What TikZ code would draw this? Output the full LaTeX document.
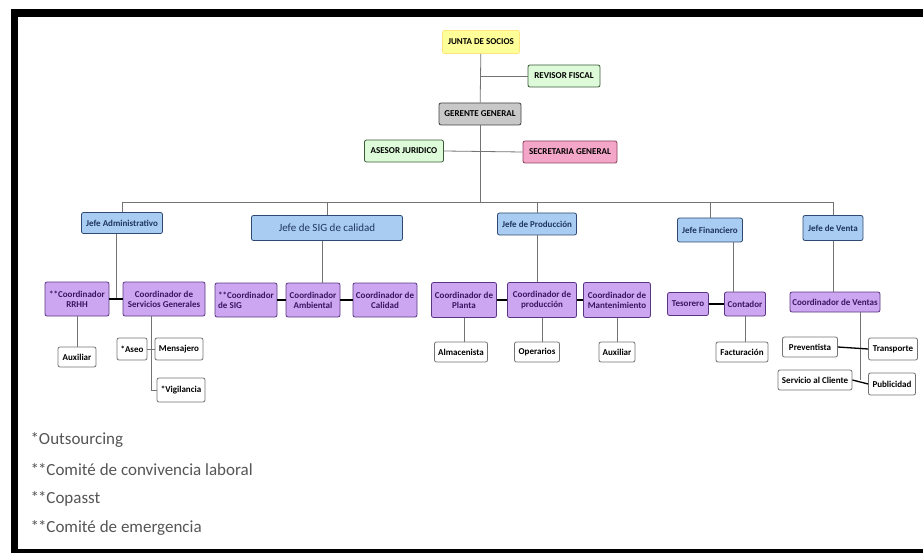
\documentclass[tikz,border=0pt]{standalone}
\usepackage{fontspec}
\setmainfont{Carlito}
\usetikzlibrary{calc}
\definecolor{yelF}{HTML}{FFFF99}
\definecolor{grnF}{HTML}{DDFBD8}
\definecolor{grnD}{HTML}{3A5A3A}
\definecolor{gryF}{HTML}{C8C8C8}
\definecolor{pnkF}{HTML}{F4A6C8}
\definecolor{pnkD}{HTML}{8A4060}
\definecolor{bluF}{HTML}{A9CDF2}
\definecolor{bluD}{HTML}{2E4A70}
\definecolor{bluT}{HTML}{1F3560}
\definecolor{purF}{HTML}{CDA6F2}
\definecolor{purD}{HTML}{5A3580}
\definecolor{purT}{HTML}{3A1560}
\definecolor{legT}{HTML}{555555}

\begin{document}
\begin{tikzpicture}[x=1pt,y=-1pt,
  box/.style={rounded corners=2pt,line width=0.8pt,inner sep=1pt,align=center,
    font=\fontsize{9}{10}\selectfont\bfseries},
  yel/.style={box,fill=yelF,draw=yelF!80!orange},
  grn/.style={box,fill=grnF,draw=grnD},
  gry/.style={box,fill=gryF,draw=black!75},
  pnk/.style={box,fill=pnkF,draw=pnkD},
  blu/.style={box,fill=bluF,draw=bluD,text=bluT},
  pur/.style={box,fill=purF,draw=purD,text=purT},
  wht/.style={box,fill=white,draw=black!55},
  lnk/.style={draw=black!55,line width=0.8pt},
  blk/.style={draw=black,line width=1.3pt}]
  \useasboundingbox (0,0) rectangle (923,553);
  % frame
  \fill (11,9) rectangle (923,17);
  \fill (11,9) rectangle (18,553);
  \fill (11,549) rectangle (923,553);

  % top of the chart
  \node[yel,minimum width=77,minimum height=23] (junta) at (481,42) {JUNTA DE SOCIOS};
  \node[grn,minimum width=72,minimum height=22] (revisor) at (564,76) {REVISOR FISCAL};
  \node[gry,minimum width=82,minimum height=22] (gerente) at (480,114) {GERENTE GENERAL};
  \node[grn,minimum width=79,minimum height=22] (asesor) at (404,151) {ASESOR JURIDICO};
  \node[pnk,minimum width=94,minimum height=22] (secre) at (570,152) {SECRETARIA GENERAL};

  % jefes
  \node[blu,minimum width=81,minimum height=21] (jadm) at (122,223) {Jefe Administrativo};
  \node[blu,minimum width=151,minimum height=25,font=\fontsize{11}{13}\selectfont] (jsig) at (327,228) {Jefe de SIG de calidad};
  \node[blu,minimum width=79,minimum height=22] (jprod) at (537,224) {Jefe de Producción};
  \node[blu,minimum width=65,minimum height=24] (jfin) at (710,230) {Jefe Financiero};
  \node[blu,minimum width=60,minimum height=25] (jventa) at (833,228) {Jefe de Venta};

  % coordinadores
  \node[pur,minimum width=64,minimum height=34] (rrhh) at (77,299) {**Coordinador\\RRHH};
  \node[pur,minimum width=82,minimum height=34] (csg) at (164,299) {Coordinador de\\Servicios Generales};
  \node[pur,minimum width=62,minimum height=34,align=left] (csig) at (246,300) {**Coordinador\\de SIG};
  \node[pur,minimum width=54,minimum height=34] (camb) at (313,300) {Coordinador\\Ambiental};
  \node[pur,minimum width=64,minimum height=34] (ccal) at (385,300) {Coordinador de\\Calidad};
  \node[pur,minimum width=65,minimum height=35] (cpla) at (464,300) {Coordinador de\\Planta};
  \node[pur,minimum width=69,minimum height=35] (cprod) at (542,300) {Coordinador de\\producción};
  \node[pur,minimum width=67,minimum height=35] (cmant) at (617,300) {Coordinador de\\Mantenimiento};
  \node[pur,minimum width=41,minimum height=23] (tes) at (688,304) {Tesorero};
  \node[pur,minimum width=41,minimum height=24] (cont) at (745,304) {Contador};
  \node[pur,minimum width=90,minimum height=20] (cvent) at (835,302) {Coordinador de Ventas};

  % cargos de apoyo
  \node[wht,minimum width=38,minimum height=20] (aux1) at (77,357) {Auxiliar};
  \node[wht,minimum width=30,minimum height=22] (aseo) at (132,349) {*Aseo};
  \node[wht,minimum width=48,minimum height=22] (mens) at (179,349) {Mensajero};
  \node[wht,minimum width=48,minimum height=24] (vig) at (181,390) {*Vigilancia};
  \node[wht,minimum width=53,minimum height=20] (alm) at (461,352) {Almacenista};
  \node[wht,minimum width=45,minimum height=20] (oper) at (537,352) {Operarios};
  \node[wht,minimum width=36,minimum height=20] (aux2) at (617,352) {Auxiliar};
  \node[wht,minimum width=52,minimum height=20] (fact) at (742,352) {Facturación};
  \node[wht,minimum width=55,minimum height=20] (prev) at (810,347) {Preventista};
  \node[wht,minimum width=49,minimum height=22] (transp) at (893,349) {Transporte};
  \node[wht,minimum width=74,minimum height=20] (serv) at (815,380) {Servicio al Cliente};
  \node[wht,minimum width=47,minimum height=22] (pub) at (892,384) {Publicidad};

  % trunk and bus
  \coordinate (busL) at (122,202);
  \coordinate (busR) at (833,202);
  \draw[lnk] (junta) -- (gerente);
  \draw[lnk] (revisor.west) -- (revisor.west -| junta.south);
  \draw[lnk] (asesor.east) -- (secre.west);
  \draw[lnk] (gerente.south) -- (gerente.south |- busL);
  \draw[lnk] (busL) -- (busR);
  \foreach \j in {jadm,jsig,jprod,jfin,jventa}
    \draw[lnk] (\j.north |- busL) -- (\j.north);

  % under the jefes
  \coordinate (ja) at ($(rrhh.east)!.5!(csg.west)$);
  \draw[lnk] (ja |- jadm.south) -- (ja);
  \draw[blk] (rrhh.east) -- (csg.west);
  \draw[lnk] ([xshift=-5]jsig.south) -- ([xshift=-5]jsig.south |- camb.north);
  \draw[blk] (csig.east) -- (camb.west);
  \draw[blk] (camb.east) -- (ccal.west);
  \draw[lnk] (jprod.south) -- (jprod.south |- cprod.north);
  \draw[blk] (cpla.east) -- (cprod.west);
  \draw[blk] (cprod.east) -- (cmant.west);
  \draw[lnk] ([xshift=-12]cont.north |- jfin.south) -- ([xshift=-12]cont.north);
  \draw[blk] (tes.east) -- (cont.west);
  \draw[lnk] (jventa.south) -- (jventa.south |- cvent.north);

  % under the coordinadores
  \draw[lnk] (rrhh.south) -- (aux1.north);
  \coordinate (sg) at ($(aseo.east)!.5!(mens.west)$);
  \draw[lnk] (sg |- csg.south) |- (vig.west);
  \draw[lnk] (aseo.east) -- (mens.west);
  \draw[lnk] (cpla.south) -- (cpla.south |- alm.north);
  \draw[lnk] (cprod.south) -- (cprod.south |- oper.north);
  \draw[lnk] (cmant.south) -- (aux2.north);
  \draw[lnk] (cont.south) -- (cont.south |- fact.north);
  \draw[lnk] ([xshift=25]cvent.south) -- ([xshift=25]cvent.south |- serv.east);
  \draw[blk] (prev.east) -- (transp.west);
  \draw[blk] (serv.east) -- (pub.west);

  % notes
  \begin{scope}[every node/.style={anchor=west,text=legT,font=\fontsize{17}{18}\selectfont}]
    \node (n1) at (27,440) {*Outsourcing};
    \node (n2) at (27,470) {*\kern-1pt*Comité de convivencia laboral};
    \node (n3) at (27,499) {*\kern-1pt*Copasst};
    \node (n4) at (27,528) {*\kern-1pt*Comité de emergencia};
  \end{scope}
\end{tikzpicture}
\end{document}
